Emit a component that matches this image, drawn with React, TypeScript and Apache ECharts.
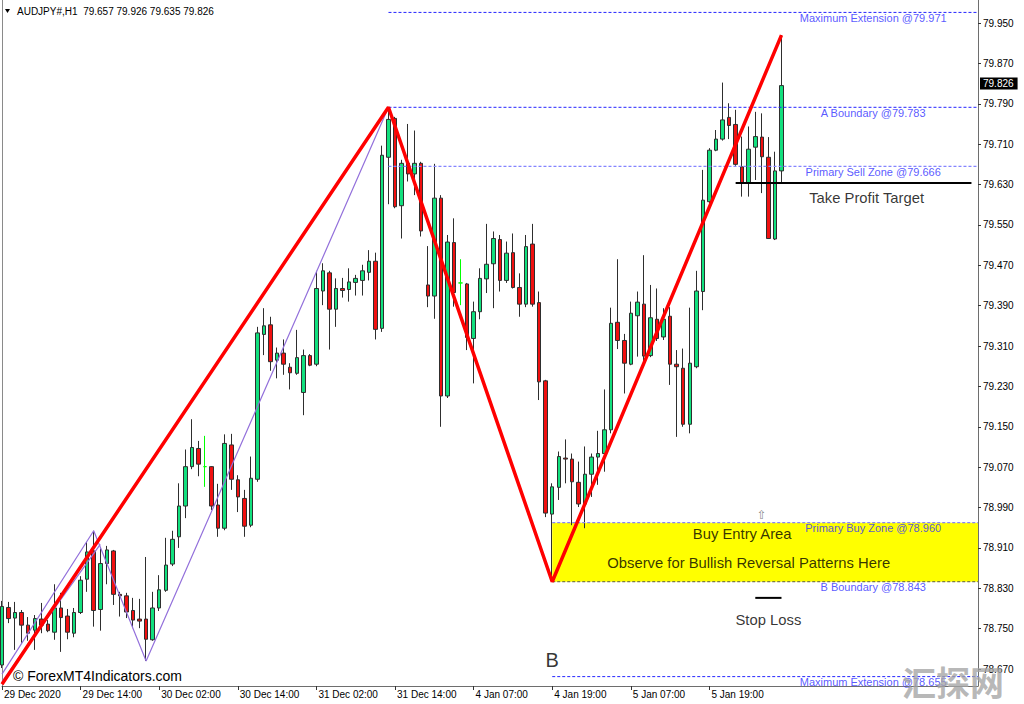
import React, { useEffect, useRef } from "react";
import * as echarts from "echarts";

// ---- chart data ----
const symbolName = "AUDJPY#,H1";

// hourly time slots on the category axis (bars plus empty space to the right)
const SLOT_COUNT = 150;
const TICK_STEP = 12;
const timeTicks = [
  "29 Dec 2020",
  "29 Dec 14:00",
  "30 Dec 02:00",
  "30 Dec 14:00",
  "31 Dec 02:00",
  "31 Dec 14:00",
  "4 Jan 07:00",
  "4 Jan 19:00",
  "5 Jan 07:00",
  "5 Jan 19:00",
];

const priceTicks = [
  79.95, 79.87, 79.79, 79.71, 79.63, 79.55, 79.47, 79.39, 79.31, 79.23, 79.15,
  79.07, 78.99, 78.91, 78.83, 78.75, 78.67,
];

// [open, close, low, high]
const candles: number[][] = [
  [78.678, 78.794, 78.672, 78.805],
  [78.792, 78.77, 78.761, 78.803],
  [78.771, 78.782, 78.708, 78.803],
  [78.782, 78.757, 78.722, 78.787],
  [78.757, 78.741, 78.726, 78.773],
  [78.747, 78.77, 78.708, 78.777],
  [78.769, 78.757, 78.741, 78.801],
  [78.759, 78.746, 78.743, 78.767],
  [78.743, 78.791, 78.728, 78.838],
  [78.791, 78.772, 78.704, 78.821],
  [78.775, 78.743, 78.729, 78.789],
  [78.741, 78.782, 78.733, 78.791],
  [78.782, 78.846, 78.779, 78.854],
  [78.848, 78.902, 78.823, 78.922],
  [78.904, 78.786, 78.754, 78.944],
  [78.788, 78.879, 78.746, 78.909],
  [78.879, 78.906, 78.838, 78.914],
  [78.904, 78.818, 78.797, 78.906],
  [78.818, 78.815, 78.774, 78.823],
  [78.815, 78.783, 78.771, 78.821],
  [78.786, 78.767, 78.751, 78.811],
  [78.769, 78.765, 78.751, 78.809],
  [78.769, 78.729, 78.686, 78.892],
  [78.728, 78.791, 78.726, 78.823],
  [78.791, 78.827, 78.785, 78.856],
  [78.826, 78.876, 78.823, 78.93],
  [78.878, 78.927, 78.874, 78.944],
  [78.932, 78.993, 78.91, 79.038],
  [78.993, 79.071, 78.969, 79.105],
  [79.071, 79.109, 79.066, 79.165],
  [79.107, 79.076, 79.052, 79.122],
  [79.071, 79.071, 79.031, 79.132],
  [79.071, 78.993, 78.985, 79.072],
  [78.995, 78.949, 78.932, 79.037],
  [78.949, 79.117, 78.945, 79.135],
  [79.114, 79.046, 79.025, 79.136],
  [79.045, 79.011, 78.981, 79.054],
  [79.008, 78.953, 78.932, 79.025],
  [78.955, 79.048, 78.951, 79.091],
  [79.046, 79.336, 79.041, 79.348],
  [79.333, 79.35, 79.292, 79.385],
  [79.352, 79.279, 79.261, 79.368],
  [79.282, 79.296, 79.246, 79.307],
  [79.296, 79.274, 79.253, 79.323],
  [79.268, 79.257, 79.224, 79.276],
  [79.256, 79.287, 79.253, 79.342],
  [79.218, 79.291, 79.173, 79.303],
  [79.291, 79.272, 79.27, 79.294],
  [79.274, 79.424, 79.27, 79.459],
  [79.419, 79.459, 79.391, 79.474],
  [79.455, 79.383, 79.303, 79.459],
  [79.383, 79.424, 79.348, 79.444],
  [79.424, 79.42, 79.406, 79.445],
  [79.422, 79.437, 79.398, 79.464],
  [79.436, 79.444, 79.41, 79.451],
  [79.44, 79.459, 79.41, 79.471],
  [79.456, 79.478, 79.44, 79.5],
  [79.478, 79.343, 79.323, 79.495],
  [79.345, 79.688, 79.338, 79.707],
  [79.684, 79.759, 79.591, 79.783],
  [79.761, 79.586, 79.583, 79.764],
  [79.588, 79.672, 79.523, 79.679],
  [79.672, 79.651, 79.636, 79.75],
  [79.651, 79.672, 79.609, 79.737],
  [79.672, 79.538, 79.527, 79.675],
  [79.431, 79.409, 79.387, 79.508],
  [79.409, 79.603, 79.364, 79.671],
  [79.603, 79.211, 79.15, 79.609],
  [79.211, 79.516, 79.207, 79.53],
  [79.515, 79.416, 79.388, 79.563],
  [79.435, 79.435, 79.391, 79.482],
  [79.433, 79.327, 79.302, 79.435],
  [79.325, 79.378, 79.236, 79.398],
  [79.378, 79.444, 79.363, 79.464],
  [79.443, 79.472, 79.415, 79.552],
  [79.473, 79.523, 79.385, 79.537],
  [79.521, 79.44, 79.418, 79.53],
  [79.44, 79.494, 79.435, 79.517],
  [79.495, 79.426, 79.424, 79.533],
  [79.426, 79.393, 79.368, 79.454],
  [79.393, 79.507, 79.387, 79.53],
  [79.512, 79.393, 79.388, 79.552],
  [79.396, 79.239, 79.203, 79.418],
  [79.241, 78.979, 78.971, 79.243],
  [78.977, 79.031, 78.843, 79.038],
  [79.03, 79.091, 79.005, 79.101],
  [79.088, 79.086, 79.038, 79.125],
  [79.086, 79.041, 78.955, 79.097],
  [79.04, 78.997, 78.991, 79.081],
  [78.997, 79.056, 78.949, 79.111],
  [79.056, 79.09, 79.011, 79.097],
  [79.09, 79.097, 79.035, 79.142],
  [79.097, 79.144, 79.061, 79.224],
  [79.144, 79.355, 79.137, 79.386],
  [79.357, 79.321, 79.304, 79.482],
  [79.321, 79.276, 79.216, 79.334],
  [79.274, 79.375, 79.272, 79.398],
  [79.37, 79.397, 79.289, 79.418],
  [79.393, 79.29, 79.276, 79.49],
  [79.291, 79.366, 79.288, 79.431],
  [79.363, 79.325, 79.32, 79.424],
  [79.328, 79.363, 79.322, 79.385],
  [79.369, 79.274, 79.233, 79.387],
  [79.274, 79.269, 79.13, 79.302],
  [79.266, 79.155, 79.15, 79.305],
  [79.155, 79.276, 79.137, 79.386],
  [79.269, 79.419, 79.266, 79.459],
  [79.418, 79.599, 79.381, 79.659],
  [79.596, 79.698, 79.593, 79.702],
  [79.698, 79.72, 79.696, 79.738],
  [79.72, 79.758, 79.717, 79.832],
  [79.763, 79.747, 79.72, 79.791],
  [79.749, 79.67, 79.667, 79.778],
  [79.665, 79.632, 79.606, 79.725],
  [79.632, 79.7, 79.606, 79.745],
  [79.704, 79.725, 79.639, 79.774],
  [79.724, 79.685, 79.613, 79.771],
  [79.684, 79.523, 79.522, 79.724],
  [79.522, 79.657, 79.52, 79.695],
  [79.657, 79.826, 79.635, 79.926],
];

// swing legs: [bar index, price]
const mainWave = [
  [0, 78.64],
  [59, 79.783],
  [84, 78.843],
  [119, 79.926],
];
const minorWave = [
  [0, 78.66],
  [14, 78.944],
  [22, 78.686],
  [59, 79.783],
];
const minorEdge = [
  [0, 78.645],
  [15, 78.917],
];

// pattern levels
const levelNames = [
  "Maximum Extension",
  "A Boundary",
  "Primary Sell Zone",
  "Primary Buy Zone",
  "B Boundary",
  "Maximum Extension",
];
const levelPrices = [79.971, 79.783, 79.666, 78.96, 78.843, 78.655];
const levelStartBars = [59, 59, 59, 84, 84, 84];
const levelLabelBar = 133;

const buyZone = { from: 84, top: 78.96, bottom: 78.843 };
const takeProfit = { price: 79.633, from: 112, to: 148 };
const stopLoss = { price: 78.811, from: 115, to: 119 };

const noteTexts = [
  "Take Profit Target",
  "Buy Entry Area",
  "Observe for Bullish Reversal Patterns Here",
  "Stop Loss",
];
const notePoints = [
  [132, 79.603],
  [113, 78.938],
  [114, 78.88],
  [117, 78.767],
];
const pivotLabel = { text: "B", bar: 84, price: 78.688 };
const arrowMark = { text: "\u21e7", bar: 116, price: 78.975 };

// ---- view / style ----
const Y_MIN = 78.6364;
const Y_MAX = 79.9956;
const FONT = '"Liberation Sans", Arial, sans-serif';
const BULL = "#12e07e";
const BEAR = "#f01010";
const OUTLINE = "#2e2e2e";
const levelColors = ["#2424ff", "#2424ff", "#8585ff", "#8585ff", "#5a5a40", "#2424ff"];
const levelWidths = [1, 1, 1.4, 1.2, 1, 1];

const slots = Array.from({ length: SLOT_COUNT }, (_, i) => `h${i}`);
const isTick = (i: number) => i % TICK_STEP === 0 && i / TICK_STEP < timeTicks.length;

export default function App() {
  const ref = useRef<HTMLDivElement>(null);

  useEffect(() => {
    if (!ref.current) return;
    const chart = echarts.init(ref.current, undefined, { renderer: "svg" });
    const last = candles[candles.length - 1];
    const lastClose = last[1];
    const header = `${symbolName}  ${last[0].toFixed(3)} ${last[3].toFixed(3)} ${last[2].toFixed(3)} ${last[1].toFixed(3)}`;

    const levelSeries = levelPrices.map((p, k) => ({
      type: "line",
      z: 4,
      silent: true,
      symbol: "none",
      animation: false,
      data: [
        [levelStartBars[k], p],
        [SLOT_COUNT - 1, p],
      ],
      lineStyle: { color: levelColors[k], width: levelWidths[k], type: [3, 2] },
    }));

    const option: any = {
      animation: false,
      backgroundColor: "#ffffff",
      textStyle: { fontFamily: FONT },
      grid: { left: 2, right: 46, top: 0, bottom: 18, containLabel: false },
      xAxis: {
        type: "category",
        data: slots,
        boundaryGap: false,
        axisLine: { show: true, lineStyle: { color: "#6e6e6e", width: 1 } },
        axisTick: {
          show: true,
          interval: (i: number) => isTick(i),
          length: 4,
          lineStyle: { color: "#333" },
        },
        axisLabel: {
          interval: (i: number) => isTick(i),
          formatter: (_v: string, i: number) => timeTicks[i / TICK_STEP] ?? "",
          align: "left",
          margin: 3,
          padding: [0, 0, 0, 2],
          fontSize: 10,
          fontFamily: FONT,
          color: "#000",
        },
        splitLine: { show: false },
      },
      yAxis: [
        {
          type: "value",
          position: "right",
          min: Y_MIN,
          max: Y_MAX,
          splitLine: { show: false },
          axisLine: { show: true, lineStyle: { color: "#6e6e6e" } },
          axisTick: { show: true, customValues: priceTicks, length: 3, lineStyle: { color: "#333" } },
          axisLabel: {
            customValues: priceTicks,
            formatter: (v: number) => v.toFixed(3),
            fontSize: 10,
            fontFamily: FONT,
            color: "#000",
            margin: 5,
          },
        },
        {
          type: "value",
          position: "left",
          min: Y_MIN,
          max: Y_MAX,
          splitLine: { show: false },
          axisLine: { show: true, lineStyle: { color: "#8a8a8a" } },
          axisTick: { show: false },
          axisLabel: { show: false },
        },
      ],
      series: [
        {
          type: "line",
          name: "zone",
          z: 1,
          silent: true,
          symbol: "none",
          data: [
            [buyZone.from, buyZone.top],
            [SLOT_COUNT - 1, buyZone.top],
          ],
          lineStyle: { opacity: 0 },
          markArea: {
            silent: true,
            itemStyle: { color: "#ffff00" },
            data: [
              [
                { coord: [buyZone.from, buyZone.top] },
                { coord: [SLOT_COUNT - 1, buyZone.bottom] },
              ],
            ],
          },
        },
        {
          type: "candlestick",
          name: symbolName,
          z: 2,
          barWidth: 4,
          data: candles,
          itemStyle: {
            color: BULL,
            color0: BEAR,
            borderColor: OUTLINE,
            borderColor0: OUTLINE,
            borderColorDoji: "#00ff00",
            borderWidth: 1,
          },
          markLine: {
            silent: true,
            symbol: "none",
            animation: false,
            lineStyle: { color: "rgba(0,0,0,0)", width: 0 },
            label: {
              show: true,
              position: "end",
              distance: 2,
              formatter: () => lastClose.toFixed(3),
              color: "#ffffff",
              backgroundColor: "#000000",
              padding: [1, 4, 1, 3],
              fontSize: 10,
              fontFamily: FONT,
            },
            data: [{ yAxis: lastClose }],
          },
        },
        ...levelSeries,
        {
          type: "line",
          z: 3,
          silent: true,
          symbol: "none",
          data: minorWave,
          lineStyle: { color: "#9370db", width: 1.2 },
        },
        {
          type: "line",
          z: 3,
          silent: true,
          symbol: "none",
          data: minorEdge,
          lineStyle: { color: "#9370db", width: 1.2 },
        },
        {
          type: "line",
          z: 6,
          silent: true,
          symbol: "none",
          data: mainWave,
          lineStyle: { color: "#ff0000", width: 3.5 },
        },
        {
          type: "line",
          z: 5,
          silent: true,
          symbol: "none",
          data: [
            [takeProfit.from, takeProfit.price],
            [takeProfit.to, takeProfit.price],
          ],
          lineStyle: { color: "#000", width: 2 },
        },
        {
          type: "line",
          z: 5,
          silent: true,
          symbol: "none",
          data: [
            [stopLoss.from, stopLoss.price],
            [stopLoss.to, stopLoss.price],
          ],
          lineStyle: { color: "#000", width: 2 },
        },
        {
          type: "scatter",
          z: 7,
          silent: true,
          symbolSize: 0,
          data: levelPrices.map((p, k) => ({
            value: [levelLabelBar, p],
            label: { formatter: `${levelNames[k]} @${p.toFixed(3)}` },
          })),
          label: {
            show: true,
            position: "bottom",
            distance: 0,
            color: "#2e2eff",
            fontSize: 11,
            fontFamily: FONT,
          },
        },
        {
          type: "scatter",
          z: 7,
          silent: true,
          symbolSize: 0,
          data: notePoints.map((pt, k) => ({
            value: pt,
            label: { formatter: noteTexts[k] },
          })),
          label: {
            show: true,
            position: "inside",
            color: "#000",
            fontSize: 14.8,
            fontFamily: FONT,
          },
        },
        {
          type: "scatter",
          z: 7,
          silent: true,
          symbolSize: 0,
          data: [
            { value: [pivotLabel.bar, pivotLabel.price], label: { formatter: pivotLabel.text, fontSize: 20 } },
            {
              value: [arrowMark.bar, arrowMark.price],
              label: { formatter: arrowMark.text, fontSize: 12, color: "#6a6a6a", fontFamily: '"DejaVu Sans", sans-serif' },
            },
          ],
          label: { show: true, position: "inside", color: "#000", fontFamily: FONT },
        },
      ],
      graphic: [
        {
          type: "polygon",
          silent: true,
          z: 10,
          shape: { points: [[5, 9], [10, 9], [7.5, 13]] },
          style: { fill: "#000" },
        },
        {
          type: "text",
          silent: true,
          z: 10,
          x: 17,
          y: 11.5,
          style: { text: header, fill: "#000", font: `10px ${FONT}`, verticalAlign: "middle" },
        },
        {
          type: "text",
          silent: true,
          z: 10,
          x: 13,
          y: 676,
          style: { text: "\u00a9 ForexMT4Indicators.com", fill: "#000", font: `14px ${FONT}`, verticalAlign: "middle" },
        },
        {
          type: "text",
          silent: true,
          z: 20,
          x: 953,
          y: 681,
          style: {
            text: "汇探网",
            fill: "rgba(165,165,165,0.8)",
            font: 'bold 34px "Noto Sans CJK SC", sans-serif',
            align: "center",
            verticalAlign: "middle",
          },
        },
      ],
    };

    chart.setOption(option);
    return () => chart.dispose();
  }, []);

  return (
    <div
      ref={ref}
      style={{ position: "fixed", left: 0, top: 0, width: 1024, height: 704, background: "#fff" }}
    />
  );
}
